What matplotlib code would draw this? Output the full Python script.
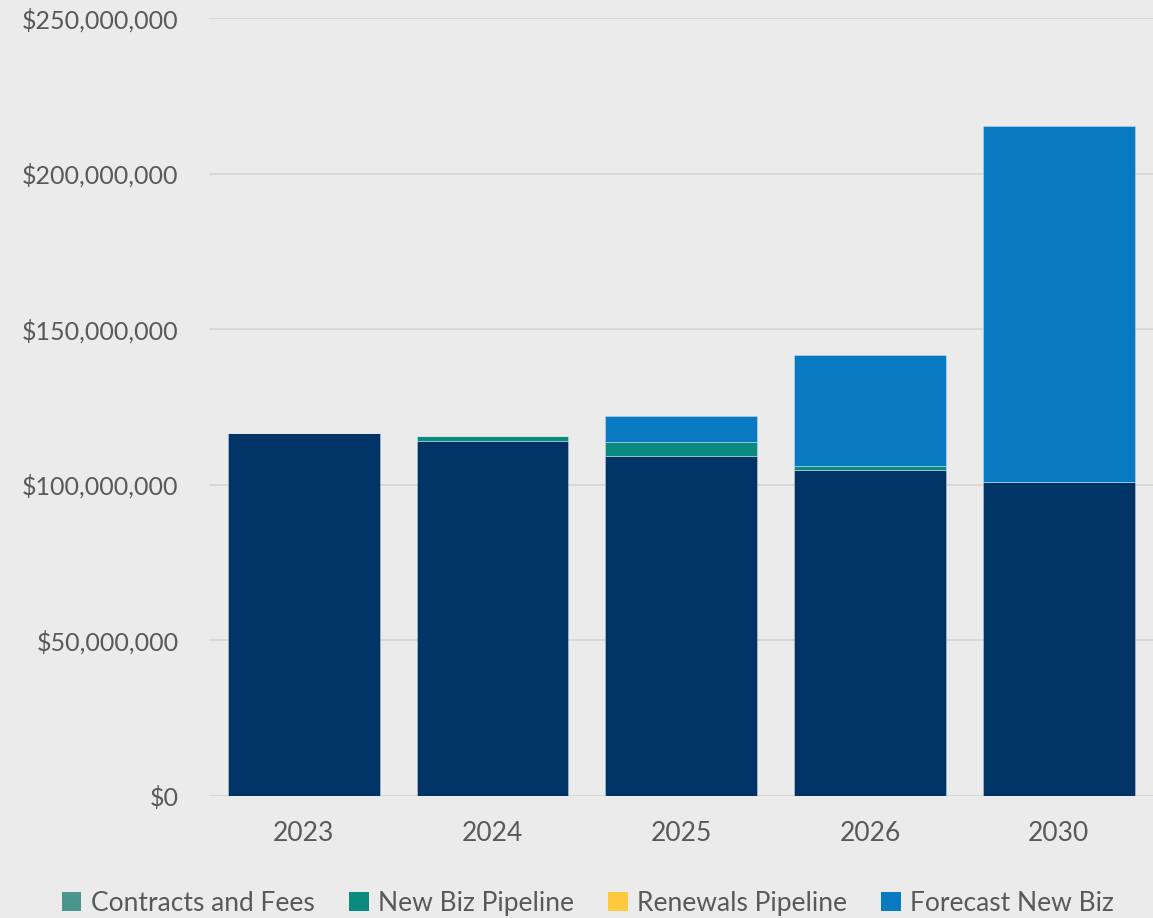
import matplotlib
matplotlib.use("Agg")
import matplotlib.pyplot as plt
import numpy as np
from matplotlib.ticker import FuncFormatter
from matplotlib.patches import Patch

years = ["2023", "2024", "2025", "2026", "2030"]
base_revenue = [116.6e6, 114.1e6, 109.3e6, 104.9e6, 100.9e6]
contracts_fees = [0, 0, 0, 0, 0]
new_biz_pipeline = [0, 1.6e6, 4.4e6, 1.3e6, 0]
renewals_pipeline = [0, 0, 0, 0, 0]
forecast_new_biz = [0, 0, 8.3e6, 35.5e6, 114.4e6]

series = [
    ("Existing", base_revenue, "#003366", False),
    ("Contracts and Fees", contracts_fees, "#4a958c", True),
    ("New Biz Pipeline", new_biz_pipeline, "#0b8a80", True),
    ("Renewals Pipeline", renewals_pipeline, "#fdc93d", True),
    ("Forecast New Biz", forecast_new_biz, "#0979c1", True),
]

bg = "#ebebeb"
txt = "#595959"
plt.rcParams['font.family'] = ['Lato', 'DejaVu Sans']

fig = plt.figure(figsize=(11.53, 9.18), dpi=100, facecolor=bg)
ax = fig.add_axes([0.1815, 0.1329, 0.8185, 0.8475], facecolor=bg)

x = np.arange(len(years))
bottom = np.zeros(len(years))
handles = []
for name, vals, col, inleg in series:
    vals = np.array(vals, dtype=float)
    ax.bar(x, vals, bottom=bottom, width=0.804, color=col,
           edgecolor=(1, 1, 1, 0.35), linewidth=0.6, zorder=3)
    bottom += vals
    if inleg:
        handles.append(Patch(facecolor=col, label=name))

ax.set_xlim(-0.5, len(years) - 0.5)
ax.set_ylim(0, 250e6)
ax.set_yticks(np.arange(0, 250e6 + 1, 50e6))
ax.yaxis.set_major_formatter(FuncFormatter(lambda v, p: "${:,.0f}".format(v)))
ax.set_xticks(x)
ax.set_xticklabels(years)
ax.grid(axis='y', color="#d6d6d6", linewidth=1.3, zorder=0)
ax.set_axisbelow(True)
for s in ax.spines.values():
    s.set_visible(False)
ax.tick_params(axis='both', length=0, colors=txt, labelsize=18)
ax.tick_params(axis='y', pad=22)
ax.tick_params(axis='x', pad=18, labelsize=19)

fig.legend(handles=handles, loc='center', bbox_to_anchor=(0.51, 0.016),
           ncol=4, frameon=False, fontsize=19, labelcolor=txt,
           handlelength=0.75, handleheight=0.75, handletextpad=0.35,
           columnspacing=1.3, borderpad=0)

fig.savefig("out.png", dpi=100, facecolor=bg)
